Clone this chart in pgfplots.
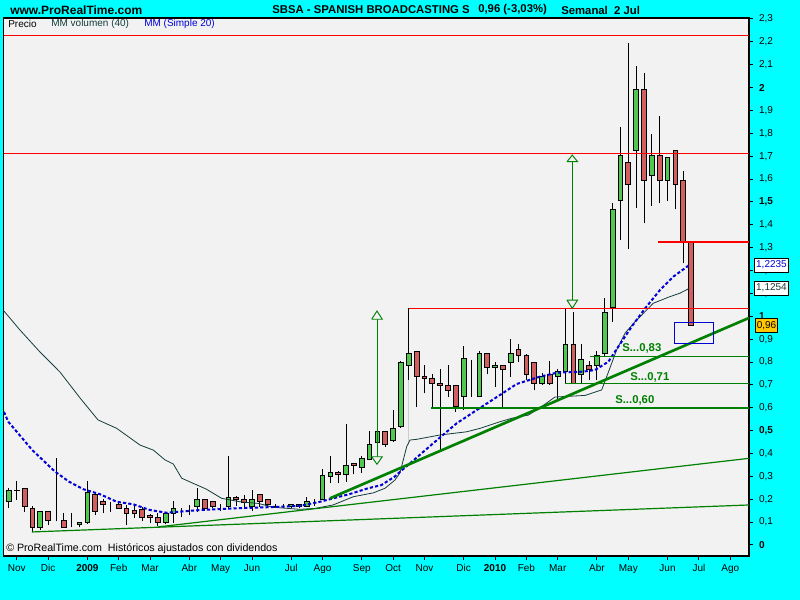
\documentclass[border=0pt]{standalone}
\usepackage{pgfplots}
\pgfplotsset{compat=1.18}
\usepackage{pgfplotstable}
\usepackage{fontspec}
\setmainfont{Liberation Sans}
\definecolor{bgcyan}{RGB}{0,255,255}
\definecolor{plotbg}{RGB}{242,242,242}
\definecolor{cgreen}{RGB}{80,200,80}
\definecolor{cred}{RGB}{210,95,95}
\definecolor{trend}{RGB}{0,128,0}
\definecolor{mablue}{RGB}{0,0,215}
\definecolor{mavol}{RGB}{20,60,60}
\definecolor{lblorange}{RGB}{255,200,0}

\pgfplotstableread{
i o h l c
0 0.190 0.250 0.160 0.240
1 0.238 0.280 0.197 0.240
2 0.248 0.250 0.146 0.168
3 0.160 0.170 0.058 0.077
4 0.077 0.147 0.066 0.147
5 0.147 0.147 0.087 0.106
6 0.120 0.379 0.105 0.120
7 0.109 0.139 0.077 0.077
8 0.077 0.139 0.077 0.077
9 0.089 0.099 0.077 0.099
10 0.099 0.280 0.092 0.230
11 0.219 0.230 0.131 0.146
12 0.192 0.200 0.139 0.178
13 0.170 0.190 0.146 0.170
14 0.179 0.190 0.160 0.160
15 0.160 0.175 0.087 0.139
16 0.149 0.175 0.120 0.139
17 0.157 0.166 0.105 0.121
18 0.130 0.135 0.098 0.121
19 0.121 0.140 0.083 0.099
20 0.099 0.139 0.090 0.139
21 0.139 0.192 0.098 0.160
22 0.149 0.162 0.124 0.149
23 0.149 0.175 0.131 0.149
24 0.168 0.248 0.146 0.200
25 0.200 0.200 0.150 0.160
26 0.190 0.190 0.160 0.170
27 0.178 0.178 0.150 0.178
28 0.170 0.389 0.160 0.207
29 0.207 0.215 0.170 0.197
30 0.200 0.220 0.160 0.188
31 0.168 0.240 0.150 0.200
32 0.219 0.219 0.168 0.190
33 0.200 0.200 0.165 0.175
34 0.170 0.180 0.160 0.163
35 0.170 0.180 0.160 0.170
36 0.168 0.180 0.160 0.178
37 0.168 0.180 0.160 0.178
38 0.170 0.211 0.165 0.192
39 0.192 0.200 0.170 0.192
40 0.200 0.332 0.195 0.302
41 0.300 0.389 0.270 0.318
42 0.318 0.325 0.270 0.309
43 0.309 0.529 0.277 0.349
44 0.357 0.360 0.309 0.347
45 0.338 0.389 0.315 0.379
46 0.376 0.498 0.372 0.440
47 0.449 0.498 0.430 0.498
48 0.498 0.498 0.430 0.439
49 0.459 0.590 0.449 0.510
50 0.517 0.806 0.510 0.799
51 0.786 1.035 0.720 0.838
52 0.848 0.848 0.605 0.736
53 0.738 0.786 0.663 0.729
54 0.729 0.746 0.598 0.707
55 0.707 0.768 0.408 0.698
56 0.698 0.786 0.648 0.676
57 0.698 0.698 0.583 0.605
58 0.648 0.870 0.590 0.816
59 0.648 0.809 0.648 0.648
60 0.648 0.850 0.648 0.838
61 0.838 0.838 0.746 0.777
62 0.777 0.800 0.690 0.786
63 0.786 0.786 0.598 0.768
64 0.799 0.900 0.736 0.838
65 0.856 0.877 0.800 0.829
66 0.829 0.835 0.720 0.746
67 0.799 0.800 0.676 0.707
68 0.707 0.750 0.700 0.738
69 0.746 0.805 0.700 0.707
70 0.738 0.770 0.634 0.760
71 0.760 1.035 0.707 0.877
72 0.877 1.020 0.707 0.707
73 0.746 0.877 0.710 0.809
74 0.786 0.805 0.720 0.768
75 0.786 0.850 0.720 0.829
76 0.838 1.081 0.823 1.017
77 1.038 1.494 0.976 1.468
78 1.507 1.828 1.334 1.704
79 1.673 2.194 1.296 1.577
80 1.726 2.094 1.475 1.993
81 1.993 2.062 1.407 1.595
82 1.616 1.796 1.484 1.704
83 1.704 1.876 1.494 1.595
84 1.595 1.695 1.506 1.695
85 1.726 1.726 1.468 1.577
86 1.595 1.635 1.232 1.328
87 1.328 1.328 0.960 0.960
}\candles

\begin{document}
\begin{tikzpicture}
\fill[bgcyan] (0,0) rectangle (600pt,450pt);
\begin{axis}[
  at={(2.625pt,33pt)}, anchor=south west,
  scale only axis, width=559.1pt, height=403.5pt,
  xmin=-0.70, xmax=94.39, ymin=-0.0481, ymax=2.3043,
  axis background/.style={fill=plotbg},
  axis line style={black, line width=1pt},
  tick align=outside, xtick pos=lower, ytick pos=right, yticklabel pos=right,
  major tick length=3pt,
  tick style={black, line width=0.75pt},
  tick label style={font=\fontsize{7.5}{9}\selectfont},
  xtick={1,5,10,14,18,23,27,31,36,40,45,49,53,58,62,66,70,75,79,84,88,92},
  xticklabels={Nov,Dic,\textbf{2009},Feb,Mar,Abr,May,Jun,Jul,Ago,Sep,Oct,Nov,Dic,\textbf{2010},Feb,Mar,Abr,May,Jun,Jul,Ago},
  ytick={0,0.1,0.2,0.3,0.4,0.5,0.6,0.7,0.8,0.9,1,1.1,1.2,1.3,1.4,1.5,1.6,1.7,1.8,1.9,2,2.1,2.2,2.3},
  yticklabels={\textbf{0},{0,1},{0,2},{0,3},{0,4},{\textbf{0,5}},{0,6},{0,7},{0,8},{0,9},\textbf{1},{1,1},{1,2},{1,3},{1,4},{\textbf{1,5}},{1,6},{1,7},{1,8},{1,9},\textbf{2},{2,1},{2,2},{2,3}},
  yticklabel style={xshift=1pt},
]
% wicks
\addplot[draw=none, mark=none, forget plot, error bars/.cd, y dir=plus, y explicit, error mark=none,
  error bar style={draw=black, line width=0.75pt}]
  table[x=i, y=l, y error expr=\thisrow{h}-\thisrow{l}] {\candles};
% bodies (stacked: invisible base, green up, red down)
\addplot[ybar stacked, bar width=0.6, draw=none, fill=none]
  table[x=i, y expr={min(\thisrow{o},\thisrow{c})}] {\candles};
\addplot[ybar stacked, bar width=0.6, draw=black, fill=cgreen, line width=0.75pt]
  table[x=i, y expr={max(\thisrow{c}-\thisrow{o},0)}] {\candles};
\addplot[ybar stacked, bar width=0.6, draw=black, fill=cred, line width=0.75pt]
  table[x=i, y expr={max(\thisrow{o}-\thisrow{c},0)}] {\candles};

% gray continuation line
\addplot[black!20, line width=0.8pt] coordinates {(51,0.72) (51,0.437)};

% volume MA (40)
\addplot[mavol, line width=0.6pt] coordinates {
(-0.64,1.023) (1.40,0.940) (3.95,0.844) (6.51,0.756) (9.06,0.643) (11.35,0.547)
(13.74,0.510) (16.71,0.437) (18.41,0.415) (19.90,0.372) (20.96,0.354) (22.03,0.292)
(23.47,0.270) (25.13,0.245) (27.13,0.204) (29.46,0.189) (31.76,0.182) (33.71,0.165)
(37.12,0.156) (39.03,0.160) (41.33,0.175) (43.92,0.211) (46.47,0.228) (47.96,0.248)
(49.23,0.284) (49.87,0.315) (50.73,0.430) (51.15,0.459) (52.0,0.462) (54.97,0.481)
(58.38,0.495) (60.08,0.510) (62.63,0.539) (64.12,0.554) (66.24,0.568) (67.73,0.600)
(69.64,0.647) (73.47,0.654) (75.60,0.678) (76.24,0.736) (77.51,0.853) (78.57,0.926)
(79.85,0.976) (81.12,1.020) (82.18,1.057) (84.31,1.086) (85.59,1.101) (86.77,1.122)};

% price MA (simple 20)
\addplot[mablue, line width=1.5pt, dash pattern=on 2.4pt off 1.6pt] coordinates {
(-0.64,0.582) (-0.09,0.539) (2.97,0.415) (5.65,0.328) (6.08,0.316) (7.65,0.277)
(9.48,0.244) (11.61,0.222) (13.74,0.189) (15.85,0.178) (17.98,0.153) (20.11,0.141)
(24.36,0.153) (28.57,0.160) (32.87,0.165) (37.12,0.171) (39.67,0.189) (43.49,0.223)
(45.8,0.248) (47.5,0.262) (49.2,0.299) (49.87,0.320) (51.15,0.357) (54.12,0.445)
(57.1,0.532) (59.66,0.590) (62.63,0.656) (64.76,0.704) (67.73,0.736) (69.86,0.753)
(73.25,0.758) (74.74,0.765) (76.44,0.801) (77.72,0.867) (79.43,0.955) (81.12,1.034)
(83.04,1.115) (84.73,1.173) (86.77,1.224)};

% trend lines
\addplot[trend, line width=0.9pt] coordinates {(2.93,0.057) (94.4,0.175)};
\addplot[trend, line width=0.9pt] coordinates {(19.0,0.079) (94.4,0.379)};
\addplot[trend, line width=2pt] coordinates {(40.94,0.204) (94.4,0.993)};

% supports
\addplot[trend, line width=1pt] coordinates {(74.1,0.825) (95,0.825)};
\addplot[trend, line width=1pt] coordinates {(70.9,0.707) (95,0.707)};
\addplot[trend, line width=1pt] coordinates {(53.8,0.599) (95,0.599)};

% red resistances
\addplot[red, line width=0.9pt] coordinates {(-1,2.228) (95,2.228)};
\addplot[red, line width=0.9pt] coordinates {(-1,1.713) (95,1.713)};
\addplot[red, line width=0.9pt] coordinates {(51,1.035) (95,1.035)};
\addplot[red, line width=0.9pt] coordinates {(82.8,1.325) (95,1.325)};

% arrows
\addplot[trend, line width=0.7pt] coordinates {(46.94,0.987) (46.94,0.386)};
\addplot[trend, fill=plotbg, line width=0.7pt, line join=miter] coordinates {(46.26,0.987) (47.62,0.987) (46.94,1.023) (46.26,0.987)};
\addplot[trend, fill=plotbg, line width=0.7pt, line join=miter] coordinates {(46.26,0.386) (47.62,0.386) (46.94,0.353) (46.26,0.386)};
\addplot[trend, line width=0.7pt] coordinates {(71.85,1.676) (71.85,1.071)};
\addplot[trend, fill=plotbg, line width=0.7pt, line join=miter] coordinates {(71.17,1.676) (72.53,1.676) (71.85,1.705) (71.17,1.676)};
\addplot[trend, fill=plotbg, line width=0.7pt, line join=miter] coordinates {(71.17,1.071) (72.53,1.071) (71.85,1.035) (71.17,1.071)};

% blue box
\addplot[mablue, line width=0.9pt] coordinates {(84.86,0.974) (89.83,0.974) (89.83,0.882) (84.86,0.882) (84.86,0.974)};
\end{axis}

% header
\node[anchor=west, inner sep=0pt, font=\fontsize{9}{10}\selectfont\bfseries] at (7.5pt,442.5pt) {www.ProRealTime.com};
\node[anchor=west, inner sep=0pt, font=\fontsize{8.5}{10}\selectfont\bfseries] at (204pt,442.5pt) {SBSA - SPANISH BROADCASTING S};
\node[anchor=west, inner sep=0pt, font=\fontsize{8.5}{10}\selectfont\bfseries] at (358.5pt,442.5pt) {0,96 (-3,03\%)};
\node[anchor=west, inner sep=0pt, font=\fontsize{8.5}{10}\selectfont\bfseries] at (420.75pt,442.5pt) {Semanal\ \ 2 Jul};
% legend row
\node[anchor=west, inner sep=0pt, font=\fontsize{7.5}{8}\selectfont] at (6pt,432pt) {Precio};
\node[anchor=west, inner sep=0pt, font=\fontsize{7.5}{8}\selectfont, text=mavol] at (38.25pt,432pt) {MM volumen (40)};
\node[anchor=west, inner sep=0pt, font=\fontsize{7.5}{8}\selectfont, text=mablue] at (108pt,432pt) {MM (Simple 20)};
% copyright
\node[anchor=west, inner sep=0pt, font=\fontsize{8}{9}\selectfont] at (4.5pt,38.25pt) {\textcopyright\ ProRealTime.com\ \ Históricos ajustados con dividendos};
% support labels
\node[anchor=west, inner sep=0pt, font=\fontsize{8.5}{10}\selectfont\bfseries, text=trend] at (466.5pt,189pt) {S...0,83};
\node[anchor=west, inner sep=0pt, font=\fontsize{8.5}{10}\selectfont\bfseries, text=trend] at (472.5pt,167.25pt) {S...0,71};
\node[anchor=west, inner sep=0pt, font=\fontsize{8.5}{10}\selectfont\bfseries, text=trend] at (461.25pt,150pt) {S...0,60};
% value boxes
\node[draw=black, fill=white, line width=0.6pt, inner sep=0.8pt, minimum width=26pt, minimum height=10.5pt, font=\fontsize{7.5}{9}\selectfont, text=mablue] at (578.6pt,251.25pt) {1,2235};
\node[draw=black, fill=white, line width=0.6pt, inner sep=0.8pt, minimum width=26pt, minimum height=10.5pt, font=\fontsize{7.5}{9}\selectfont, text=mavol] at (578.6pt,234pt) {1,1254};
\node[draw=black, fill=lblorange, line width=0.6pt, inner sep=0.8pt, minimum width=17pt, minimum height=11pt, font=\fontsize{7.5}{9}\selectfont] at (574.9pt,205.9pt) {0,96};

\pgfresetboundingbox
\path[use as bounding box] (0,0) rectangle (600pt,450pt);
\end{tikzpicture}
\end{document}
